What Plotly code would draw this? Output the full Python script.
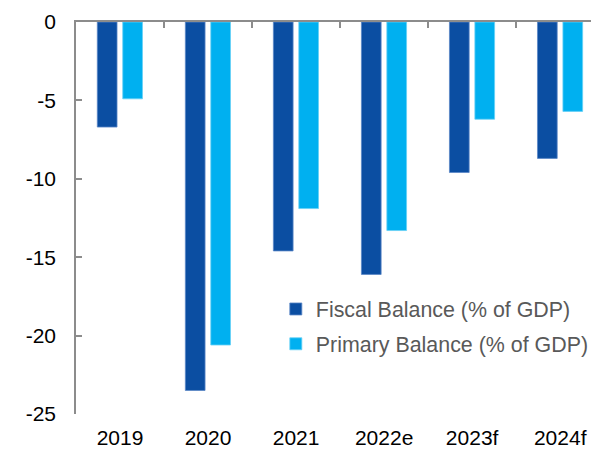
import plotly.graph_objects as go

categories = ["2019", "2020", "2021", "2022e", "2023f", "2024f"]
fiscal_balance = [-6.7, -23.5, -14.6, -16.1, -9.6, -8.7]
primary_balance = [-4.9, -20.6, -11.9, -13.3, -6.2, -5.7]
y_ticks = [0, -5, -10, -15, -20, -25]
y_tick_labels = ["0", "-5", "-10", "-15", "-20", "-25"]

FONT = "Liberation Sans, Arial, sans-serif"
GRAY = "#8c8c8c"

fig = go.Figure()
fig.add_trace(go.Bar(
    x=categories, y=fiscal_balance, name="Fiscal Balance (% of GDP)",
    marker=dict(color="#0B4EA2", line=dict(color="#5a86c6", width=0.8)),
    width=0.224, offset=-0.258, legendgroup="a",
))
fig.add_trace(go.Bar(
    x=categories, y=primary_balance, name="Primary Balance (% of GDP)",
    marker=dict(color="#00B0F0", line=dict(color="#66d0f6", width=0.8)),
    width=0.224, offset=0.031, legendgroup="b",
))
# invisible helper trace to carry bottom category labels
fig.add_trace(go.Scatter(x=categories, y=[None] * len(categories), xaxis="x2",
                         showlegend=False, hoverinfo="skip", mode="markers"))

fig.update_layout(
    width=591, height=449,
    margin=dict(l=76, r=0, t=22, b=35, autoexpand=False),
    paper_bgcolor="white", plot_bgcolor="white",
    barmode="overlay",
    font=dict(family=FONT, size=21, color="#000000"),
    xaxis=dict(
        type="category", categoryarray=categories, side="top", anchor="y",
        range=[-0.5, 5.35], showline=True, linecolor=GRAY, linewidth=1.5,
        ticks="inside", tickson="boundaries", ticklen=6, tickcolor=GRAY, tickwidth=1.5,
        showticklabels=False, showgrid=False, zeroline=False, automargin=False,
    ),
    xaxis2=dict(
        type="category", categoryarray=categories, overlaying="x", side="bottom", anchor="y",
        range=[-0.5, 5.35], showline=False, ticks="", showgrid=False, zeroline=False,
        tickfont=dict(family=FONT, size=21, color="#000000"), ticklabelstandoff=9,
        automargin=False,
    ),
    yaxis=dict(
        range=[-25, 0], tickvals=y_ticks, ticktext=y_tick_labels,
        showline=True, linecolor=GRAY, linewidth=1.5,
        ticks="inside", ticklen=6, tickcolor=GRAY, tickwidth=1.5,
        showgrid=False, zeroline=False, ticklabelstandoff=14, automargin=False,
        tickfont=dict(family=FONT, size=21, color="#000000"),
    ),
    legend=dict(
        x=0.388, y=0.32, xanchor="left", yanchor="top",
        font=dict(family=FONT, size=21.4, color="#595959"),
        traceorder="grouped", tracegroupgap=4, bgcolor="rgba(0,0,0,0)",
    ),
    showlegend=True,
)

fig.write_html(
    "out.html",
    config={"displayModeBar": False},
    post_script="document.body.style.margin='0';document.body.style.overflow='hidden';",
)
